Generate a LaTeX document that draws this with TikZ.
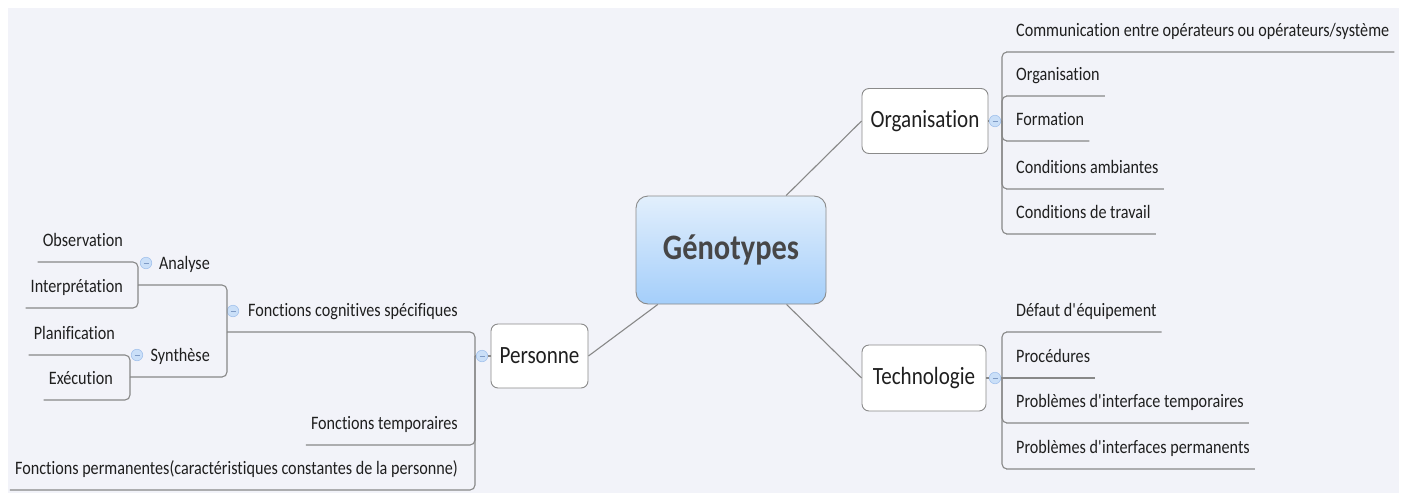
\documentclass[tikz,border=0pt]{standalone}
\usepackage{fontspec}
\setmainfont{Carlito}[FakeStretch=0.85, Ligatures={NoCommon}]
\usetikzlibrary{calc}

\definecolor{bgfill}{HTML}{F2F3F9}
\definecolor{linegray}{HTML}{888888}
\definecolor{boxgray}{HTML}{8A8A8A}
\definecolor{txt}{HTML}{1F1F1F}
\definecolor{genotxt}{HTML}{474747}
\definecolor{genotop}{HTML}{E2EFFC}
\definecolor{genobot}{HTML}{A4CEFA}
\definecolor{knobfill}{HTML}{CADFF8}
\definecolor{knobdraw}{HTML}{A3C2EC}
\definecolor{knobline}{HTML}{7F9BC6}

\begin{document}
\begin{tikzpicture}[x=1pt,y=-1pt,
  central/.style={draw=boxgray, line width=0.9pt, rounded corners=12pt,
    top color=genotop, bottom color=genobot, text=genotxt,
    font=\bfseries\fontsize{35.8}{40}\selectfont,
    minimum width=190pt, minimum height=108pt, inner sep=0pt},
  topic/.style={draw=boxgray, fill=white, line width=0.9pt, rounded corners=7pt,
    text=txt, font=\fontsize{24.8}{28}\selectfont,
    minimum height=65pt, inner sep=0pt},
  leaf/.style={inner xsep=5pt, inner ysep=0pt, text height=14pt, text depth=15pt,
    text=txt, font=\fontsize{19}{22}\selectfont},
  knob/.style={circle, draw=knobdraw, fill=knobfill, line width=0.6pt,
    minimum size=11.5pt, inner sep=0pt,
    path picture={\draw[knobline, line width=0.8pt]
      ($(path picture bounding box.center)+(-2.5pt,0)$) --
      ($(path picture bounding box.center)+(2.5pt,0)$);}},
  link/.style={draw=linegray, line width=1.1pt, rounded corners=5pt}]

\useasboundingbox (0,0) rectangle (1413,493);
\fill[bgfill] (8,8) rectangle (1399,493);

% main topics
\node[central] (geno) at (731,250) {Génotypes};
\node[topic, minimum width=126pt] (org) at (925,121) {Organisation};
\node[topic, minimum width=124pt, minimum height=66pt] (tech) at (924,378) {Technologie};
\node[topic, minimum width=97pt, minimum height=64pt] (pers) at (539.5,356) {Personne};

\draw[link] (geno) -- (org.west);
\draw[link] (geno) -- (tech.west);
\draw[link] (geno) -- (pers.east);

% Organisation branch
\node[knob] (orgK) at (995,121) {};
\coordinate (orgH) at (1002,121);
\draw[link] (org.east) -- (orgK.west);
\draw[link] (orgK.east) -- (orgH);

\node[leaf, anchor=south west] (o1) at (1011,52) {Communication entre opérateurs ou opérateurs/système};
\node[leaf, anchor=south west] (o2) at (1011,96) {Organisation};
\node[leaf, anchor=south west] (o3) at (1011,141) {Formation};
\node[leaf, anchor=south west] (o4) at (1011,189) {Conditions ambiantes};
\node[leaf, anchor=south west] (o5) at (1011,234) {Conditions de travail};
\foreach \n in {o1,o2,o3,o4,o5}
  \draw[link] (orgH) |- (\n.south west) -- (\n.south east);

% Technologie branch
\node[knob] (techK) at (995,378) {};
\coordinate (techH) at (1002,378);
\draw[link] (tech.east) -- (techK.west);
\draw[link] (techK.east) -- (techH);

\node[leaf, anchor=south west] (t1) at (1011,332) {Défaut d\textquotesingle équipement};
\node[leaf, anchor=south west] (t2) at (1011,378) {Procédures};
\node[leaf, anchor=south west] (t3) at (1011,423) {Problèmes d\textquotesingle interface temporaires};
\node[leaf, anchor=south west] (t4) at (1011,469) {Problèmes d\textquotesingle interfaces permanents};
\draw[link] (techH) |- (t1.south west) -- (t1.south east);
\draw[link] (techH) -- (t2.south west) -- (t2.south east);
\draw[link] (techH) |- (t3.south west) -- (t3.south east);
\draw[link] (techH) |- (t4.south west) -- (t4.south east);

% Personne branch
\node[knob] (persK) at (482,356) {};
\coordinate (persH) at (475,356);
\draw[link] (pers.west) -- (persK.east);
\draw[link] (persK.west) -- (persH);

\node[leaf, anchor=south east] (p1) at (463,332) {Fonctions cognitives spécifiques};
\node[leaf, anchor=south east] (p2) at (463,445) {Fonctions temporaires};
\node[leaf, anchor=south east] (p3) at (463,490) {Fonctions permanentes(caractéristiques constantes de la personne)};
\coordinate (fcogH) at (227,332);
\node[knob] (fcogK) at (233,311) {};
\draw[link] (persH) |- (p1.south east) -- (p1.south west) -- (fcogH);
\draw[link] (persH) |- (p2.south east) -- (p2.south west);
\draw[link] (persH) |- (p3.south east) -- (p3.south west);

% Fonctions cognitives spécifiques
\node[leaf, anchor=south east] (ana) at (215,285) {Analyse};
\node[leaf, anchor=south east] (syn) at (215,377) {Synthèse};
\coordinate (anaH) at (138,285);
\coordinate (synH) at (130,377);
\node[knob] (anaK) at (146,263) {};
\node[knob] (synK) at (137,355) {};
\draw[link] (fcogH) |- (ana.south east) -- (ana.south west) -- (anaH);
\draw[link] (fcogH) |- (syn.south east) -- (syn.south west) -- (synH);

% Analyse and Synthèse
\node[leaf, anchor=south east] (obs) at (128,262) {Observation};
\node[leaf, anchor=south east] (int) at (128,308) {Interprétation};
\node[leaf, anchor=south east] (pla) at (120,355) {Planification};
\node[leaf, anchor=south east] (exe) at (118,400) {Exécution};
\draw[link] (anaH) |- (obs.south east) -- (obs.south west);
\draw[link] (anaH) |- (int.south east) -- (int.south west);
\draw[link] (synH) |- (pla.south east) -- (pla.south west);
\draw[link] (synH) |- (exe.south east) -- (exe.south west);
\end{tikzpicture}
\end{document}
